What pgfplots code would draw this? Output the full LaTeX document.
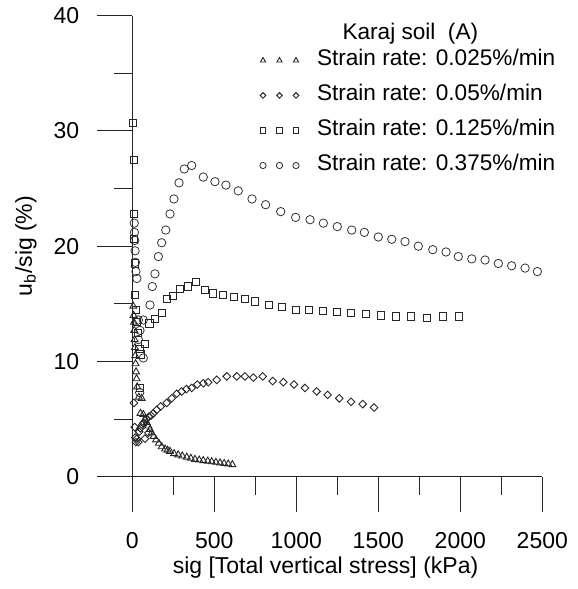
\documentclass[border=0pt]{standalone}
\usepackage{fontspec}
\setmainfont{Liberation Sans}
\usepackage{pgfplots}
\pgfplotsset{compat=1.18}
\begin{document}
\begin{tikzpicture}
\begin{axis}[
  scale only axis,
  width=410bp, height=461bp,
  xmin=0, xmax=2500, ymin=0, ymax=40,
  axis x line=bottom, axis y line=left,
  axis line style={-, line width=1.1bp, black!85},
  xtick={0,500,...,2500}, ytick={0,10,...,40},
  minor x tick num=1, minor y tick num=1,
  tick align=outside,
  major tick length=35bp, minor tick length=18bp,
  tick style={line width=1.1bp, black!85},
  /pgf/number format/assume math mode=true,
  /pgf/number format/1000 sep={},
  tick label style={font=\fontsize{23bp}{27bp}\selectfont},
  xticklabel style={yshift=-17bp},
  yticklabel style={xshift=-14.6bp},
  clip=false,
  legend style={
    at={(axis cs:0,0)}, anchor=north west, xshift=125.7bp, yshift=426.7bp,
    draw=none, fill=none, inner sep=0pt, outer sep=0pt,
    row sep=14bp, column sep=0bp,
    font=\fontsize{22.6bp}{27bp}\selectfont,
    nodes={inner sep=0pt, text height=16bp, text depth=5bp},
  },
  legend cell align=left,
  legend image code/.code={%
    \path[draw=none, fill=none] (-5bp,0bp) -- (54bp,0bp);
    \path[#1, draw=none, every mark/.append style={scale=0.75}] plot[only marks] coordinates {(0bp,0bp) (16.5bp,0bp) (33bp,0bp)};
  },
]
\coordinate (O) at (axis cs:0,0);
% 0.025 %/min  triangles
\addplot[only marks, mark=triangle, mark size=4bp, mark options={line width=0.9bp, draw=black!85}] coordinates {
(6,14.8)(8,14.0)(10,13.4)(12,12.7)(14,11.9)(16,11.2)(18,10.5)(20,9.8)(23,9.1)(26,8.5)(30,7.8)(40,6.9)(57,6.8)(50,5.5)(67,5.4)(78,5.0)(88,4.7)(98,4.4)(108,4.1)(118,3.8)(130,3.5)(145,3.2)(162,2.9)(179,2.6)(200,2.4)(215,2.3)(230,2.2)(255,2.0)(280,1.9)(305,1.8)(332,1.7)(357,1.6)(382,1.5)(408,1.45)(433,1.4)(460,1.35)(484,1.3)(510,1.25)(535,1.2)(560,1.15)(585,1.1)(610,1.05)
};
\addlegendentry{Strain rate: 0.025\%/min}
% 0.05 %/min diamonds
\addplot[only marks, mark=square, mark size=2.7bp, mark options={rotate=45, line width=0.9bp, draw=black!85}] coordinates {
(10,6.4)(15,4.3)(18,3.4)(22,3.0)(28,3.3)(37,3.0)(42,3.9)(50,4.2)(60,4.5)(70,4.7)(77,3.3)(85,5.0)(98,3.8)(100,5.2)(115,5.3)(128,5.5)(149,5.8)(173,6.1)(210,6.4)(240,6.8)(271,7.2)(301,7.4)(330,7.6)(362,7.7)(396,8.0)(433,8.1)(463,8.2)(515,8.4)(576,8.7)(637,8.7)(687,8.7)(738,8.6)(795,8.7)(856,8.3)(921,8.2)(986,8.0)(1053,7.7)(1124,7.4)(1191,7.1)(1262,6.8)(1334,6.5)(1405,6.3)(1474,6.0)
};
\addlegendentry{Strain rate: 0.05\%/min}
% 0.125 %/min squares
\addplot[only marks, mark=square, mark size=3.6bp, mark options={line width=0.9bp, draw=black!85}] coordinates {
(5,30.7)(8,27.5)(10,22.8)(12,20.6)(15,18.5)(18,15.8)(22,14.5)(27,13.4)(33,12.5)(43,11.1)(50,10.6)(45,7.7)(77,11.5)(104,13.3)(138,13.7)(179,14.2)(213,15.4)(250,15.7)(290,16.3)(340,16.5)(388,16.9)(443,16.2)(494,15.9)(551,15.8)(622,15.6)(687,15.4)(748,15.2)(835,14.9)(911,14.7)(998,14.5)(1079,14.5)(1161,14.4)(1246,14.3)(1332,14.2)(1425,14.1)(1515,14.0)(1606,13.9)(1698,13.9)(1795,13.8)(1896,13.9)(1994,13.9)
};
\addlegendentry{Strain rate: 0.125\%/min}
% 0.375 %/min circles
\addplot[only marks, mark=o, mark size=4.2bp, mark options={line width=0.8bp, draw=black!80}] coordinates {
(12,22.0)(13,21.2)(15,20.5)(17,19.6)(19,18.6)(22,17.8)(28,17.2)(37,13.6)(47,12.7)(37,11.9)(45,7.3)(67,10.3)(67,13.6)(108,14.9)(122,16.5)(138,17.6)(159,19.1)(179,20.3)(204,21.4)(230,22.8)(254,24.1)(285,25.5)(317,26.7)(362,27.0)(433,26.0)(504,25.6)(571,25.3)(646,24.8)(730,24.1)(813,23.6)(905,23.0)(996,22.5)(1084,22.3)(1165,22.0)(1250,21.7)(1338,21.4)(1415,21.2)(1500,20.8)(1582,20.6)(1663,20.4)(1744,20.0)(1832,19.7)(1913,19.5)(1988,19.1)(2070,18.9)(2151,18.8)(2232,18.5)(2313,18.3)(2395,18.1)(2470,17.8)
};
\addlegendentry{Strain rate: 0.375\%/min}
\end{axis}
\node[anchor=base west, font=\fontsize{22.6bp}{27bp}\selectfont] at ([xshift=206.7bp, yshift=436.7bp]O) {Karaj soil\ \ (A)};
\node[anchor=base, font=\fontsize{23bp}{27bp}\selectfont] at ([xshift=193.2bp, yshift=-96.3bp]O) {sig [Total vertical stress] (kPa)};
\node[rotate=90, anchor=base, font=\fontsize{23bp}{27bp}\selectfont] at ([xshift=-100.3bp, yshift=230.7bp]O) {u\textsubscript{b}/sig (\%)};
\path (O) ++(-132.3bp,-112.3bp) rectangle ++(578bp,589bp);
\end{tikzpicture}
\end{document}
